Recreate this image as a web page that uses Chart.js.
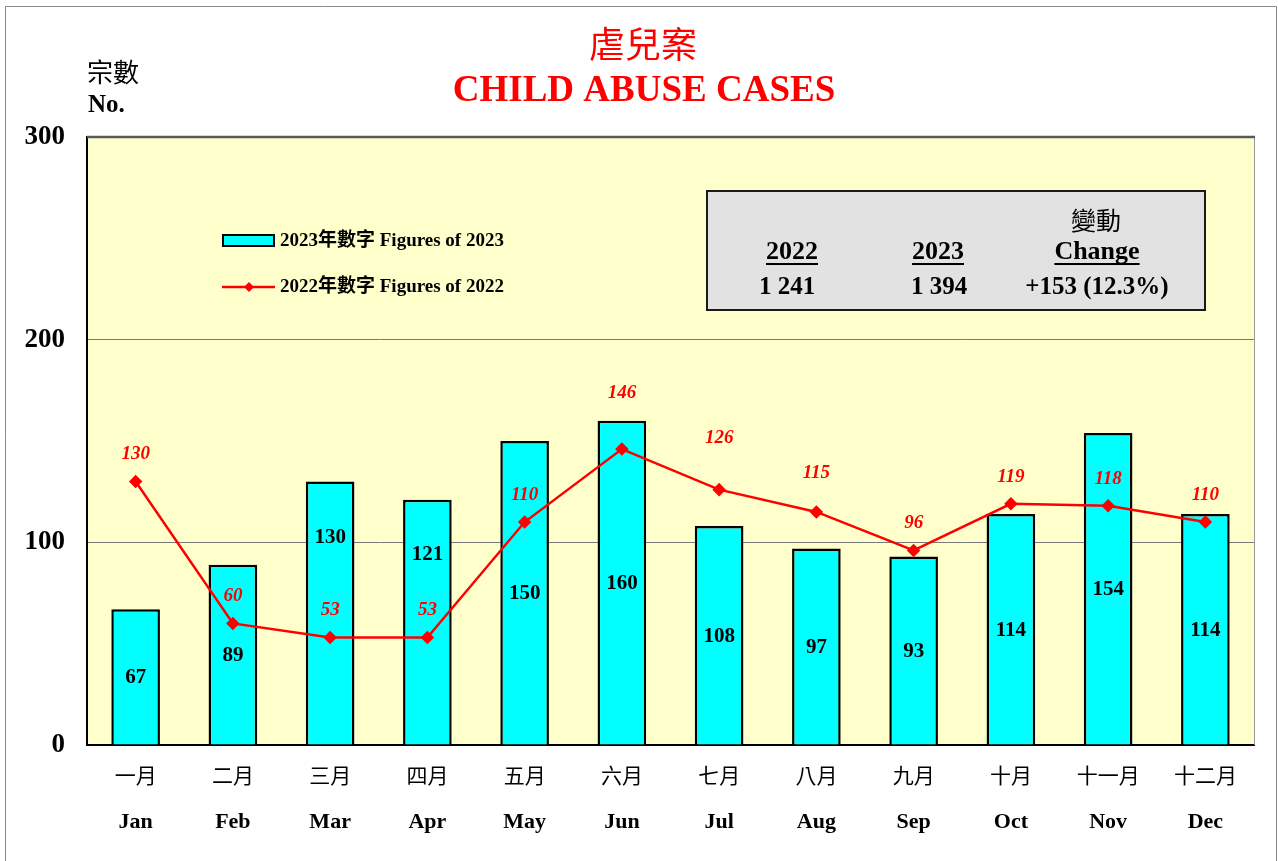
<!DOCTYPE html>
<html>
<head>
<meta charset="utf-8">
<script src="https://cdn.jsdelivr.net/npm/chart.js@4.4.1/dist/chart.umd.min.js"></script>
<style>
html,body{margin:0;padding:0;background:#fff;}
#wrap{position:relative;width:1278px;height:861px;}
</style>
</head>
<body>
<div id="wrap"><canvas id="c" width="1278" height="861"></canvas></div>
<script>
const monthsZh = ['一月','二月','三月','四月','五月','六月','七月','八月','九月','十月','十一月','十二月'];
const monthsEn = ['Jan','Feb','Mar','Apr','May','Jun','Jul','Aug','Sep','Oct','Nov','Dec'];
const figures2023 = [67, 89, 130, 121, 150, 160, 108, 97, 93, 114, 154, 114];
const figures2022 = [130, 60, 53, 53, 110, 146, 126, 115, 96, 119, 118, 110];
const yTicks = [0, 100, 200, 300];
const totals = {y2022: '1 241', y2023: '1 394', change: '+153 (12.3%)'};
// style: extra lift (px) for some labels to avoid overlaps
const labelLift = [0,0,0,0,0,29,25,12,0,0,0,0];
const barLabelLift = [0,0,76,69,0,0,0,0,0,0,0,0];

const SERIF = "'Liberation Serif','Times New Roman',serif";
const CJK = "'Noto Sans CJK TC','Noto Sans CJK SC',sans-serif";

const decor = {
  id: 'decor',
  beforeDraw(chart) {
    const {ctx, chartArea: a} = chart;
    ctx.save();
    ctx.fillStyle = '#fff';
    ctx.fillRect(0, 0, chart.width, chart.height);
    ctx.strokeStyle = '#8a8a8a';
    ctx.lineWidth = 1;
    ctx.beginPath();
    ctx.moveTo(5.5, 861); ctx.lineTo(5.5, 6.5); ctx.lineTo(1276.5, 6.5); ctx.lineTo(1276.5, 861);
    ctx.stroke();
    ctx.fillStyle = '#ffffcc';
    ctx.fillRect(a.left, a.top, a.right - a.left, a.bottom - a.top);
    ctx.restore();
  },
  beforeDatasetsDraw(chart) {
    const {ctx, chartArea: a} = chart;
    ctx.save();
    ctx.strokeStyle = '#9a9a9a';
    ctx.lineWidth = 1;
    ctx.beginPath();
    ctx.moveTo(a.right + 0.5, a.top); ctx.lineTo(a.right + 0.5, a.bottom);
    ctx.stroke();
    ctx.strokeStyle = '#5a5a5a';
    ctx.lineWidth = 2.5;
    ctx.beginPath();
    ctx.moveTo(a.left, a.top); ctx.lineTo(a.right + 1, a.top);
    ctx.stroke();
    ctx.restore();
  },
  afterDraw(chart) {
    const {ctx} = chart;
    const xs = chart.scales.x;
    ctx.save();
    ctx.textAlign = 'center';
    ctx.textBaseline = 'middle';
    ctx.fillStyle = '#ff0000';
    ctx.font = `36px ${CJK}`;
    ctx.fillText('虐兒案', 643, 44);
    ctx.font = `bold 37px ${SERIF}`;
    ctx.fillText('CHILD ABUSE CASES', 644, 91);
    ctx.fillStyle = '#000';
    ctx.textAlign = 'left';
    ctx.font = `26px ${CJK}`;
    ctx.fillText('宗數', 87, 72);
    ctx.font = `bold 25px ${SERIF}`;
    ctx.fillText('No.', 88, 106);
    ctx.textAlign = 'center';
    monthsZh.forEach((m, i) => {
      const x = xs.getPixelForValue(i);
      ctx.font = `21px ${CJK}`;
      ctx.fillText(m, x, 775);
      ctx.font = `bold 22px ${SERIF}`;
      ctx.fillText(monthsEn[i], x, 822);
    });
    const barMeta = chart.getDatasetMeta(1);
    ctx.font = `bold 21px ${SERIF}`;
    ctx.fillStyle = '#000';
    barMeta.data.forEach((b, i) => {
      ctx.fillText(String(figures2023[i]), b.x, (b.y + b.base) / 2 + 1 - barLabelLift[i]);
    });
    const lineMeta = chart.getDatasetMeta(0);
    ctx.font = `italic bold 19px ${SERIF}`;
    ctx.fillStyle = '#ff0000';
    lineMeta.data.forEach((p, i) => {
      ctx.fillText(String(figures2022[i]), p.x, p.y - 27 - labelLift[i]);
    });
    const ds0 = chart.data.datasets[1], ds1 = chart.data.datasets[0];
    ctx.fillStyle = ds0.backgroundColor;
    ctx.fillRect(223, 235, 51, 11);
    ctx.strokeStyle = '#000';
    ctx.lineWidth = 2;
    ctx.strokeRect(223, 235, 51, 11);
    ctx.strokeStyle = ds1.borderColor;
    ctx.lineWidth = 2.5;
    ctx.beginPath(); ctx.moveTo(222, 287); ctx.lineTo(275, 287); ctx.stroke();
    ctx.fillStyle = ds1.borderColor;
    ctx.beginPath();
    ctx.moveTo(249, 282); ctx.lineTo(254, 287); ctx.lineTo(249, 292); ctx.lineTo(244, 287); ctx.closePath();
    ctx.fill();
    ctx.fillStyle = '#000';
    ctx.textAlign = 'left';
    ctx.font = `bold 19px ${SERIF}, ${CJK}`;
    ctx.fillText('2023年數字 Figures of 2023', 280, 241);
    ctx.fillText('2022年數字 Figures of 2022', 280, 287);
    ctx.fillStyle = '#e2e2e2';
    ctx.fillRect(707, 191, 498, 119);
    ctx.strokeStyle = '#1a1a1a';
    ctx.lineWidth = 2;
    ctx.strokeRect(707, 191, 498, 119);
    ctx.fillStyle = '#000';
    ctx.textAlign = 'center';
    ctx.font = `25px ${CJK}`;
    ctx.fillText('變動', 1096, 220);
    ctx.font = `bold 26px ${SERIF}`;
    const heads = [['2022', 792], ['2023', 938], ['Change', 1097]];
    heads.forEach(([t, x]) => {
      ctx.fillText(t, x, 252);
      const w = ctx.measureText(t).width;
      ctx.fillRect(x - w / 2, 263, w, 2);
    });
    ctx.font = `bold 25px ${SERIF}`;
    ctx.fillText(totals.y2022, 787, 288);
    ctx.fillText(totals.y2023, 939, 288);
    ctx.fillText(totals.change, 1097, 288);
    ctx.restore();
  }
};

new Chart(document.getElementById('c'), {
  data: {
    labels: monthsEn,
    datasets: [
      {
        type: 'line',
        label: '2022年數字 Figures of 2022',
        data: figures2022,
        borderColor: '#ff0000',
        backgroundColor: '#ff0000',
        borderWidth: 2.5,
        pointStyle: 'rectRot',
        pointRadius: 5,
        pointBackgroundColor: '#ff0000',
        pointBorderColor: '#ff0000',
        tension: 0,
        order: 0
      },
      {
        type: 'bar',
        label: '2023年數字 Figures of 2023',
        data: figures2023,
        backgroundColor: '#00ffff',
        borderColor: '#000',
        borderWidth: 2.5,
        barPercentage: 0.5,
        categoryPercentage: 1,
        order: 1
      }
    ]
  },
  options: {
    responsive: false,
    animation: false,
    events: [],
    layout: {padding: {left: 0, right: 24, top: 137, bottom: 0}},
    plugins: {legend: {display: false}, tooltip: {enabled: false}, title: {display: false}},
    scales: {
      x: {
        offset: true,
        grid: {display: false},
        border: {display: true, color: '#000', width: 2},
        ticks: {display: false},
        afterFit(s) { s.height = 116; }
      },
      y: {
        min: 0, max: 300,
        afterBuildTicks(s) { s.ticks = yTicks.map(v => ({value: v})); },
        grid: {color: (c) => (c.tick && (c.tick.value === 0 || c.tick.value === 300)) ? 'rgba(0,0,0,0)' : '#7a7a7a', lineWidth: 1, drawTicks: false},
        border: {display: true, color: '#000', width: 2},
        ticks: {color: '#000', font: {family: SERIF, size: 27, weight: 'bold'}, padding: 22},
        afterFit(s) { s.width = 87; }
      }
    }
  },
  plugins: [decor]
});
</script>
</body>
</html>
